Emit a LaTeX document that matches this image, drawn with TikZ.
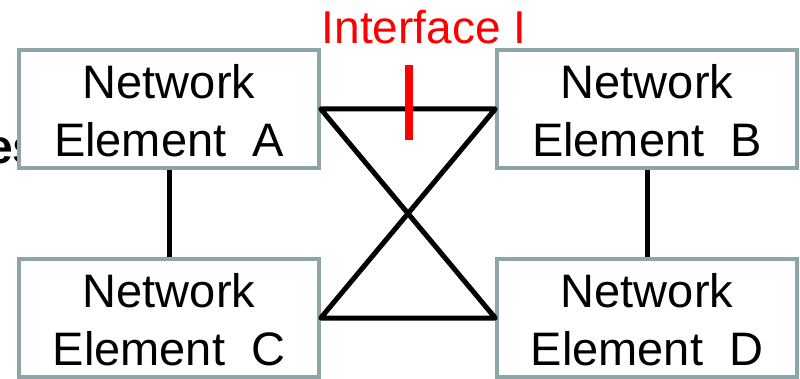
\documentclass[tikz,border=0pt]{standalone}
\usepackage{fontspec}
\setmainfont{Liberation Sans}
\usetikzlibrary{positioning}
\definecolor{elemgray}{RGB}{141,165,168}
\tikzset{elem/.style={draw=elemgray, line width=3.5pt, fill=white, minimum width=300pt, minimum height=118pt, inner sep=0pt, align=center, font=\fontsize{47}{58}\selectfont}}
\tikzset{link/.style={draw=black, line width=5pt, line join=round}}
\tikzset{ifmark/.style={draw=red, line width=8pt}}

\begin{document}
\begin{tikzpicture}[x=1pt, y=-1pt]
        \useasboundingbox (0,0) rectangle (800,379);

        \node[font=\fontsize{48}{58}\selectfont\bfseries, anchor=base west, inner sep=0pt] (rest) at (-14,164) {es};

        \node[elem] (A) at (169,109) {\rule{0pt}{38pt}Network\\Element~~A};
        \node[elem] (B) at (647,109) {\rule{0pt}{38pt}Network\\Element~~B};
        \node[elem] (C) at (169,318) {\rule{0pt}{38pt}Network\\Element~~C};
        \node[elem] (D) at (647,318) {\rule{0pt}{38pt}Network\\Element~~D};

        \node[text=red, anchor=base, inner sep=0pt, font=\fontsize{46}{56}\selectfont] (iface) at (424,44) {Interface I};

        \draw[link] (A.east) -- (B.west) -- (C.east) -- (D.west) -- cycle;
        \draw[link] (A.south) -- (C.north);
        \draw[link] (B.south) -- (D.north);

        \coordinate (bartop) at (409,65);
        \coordinate (barbot) at (409,140);
        \draw[ifmark] (bartop) -- (barbot);
    \end{tikzpicture}
\end{document}
